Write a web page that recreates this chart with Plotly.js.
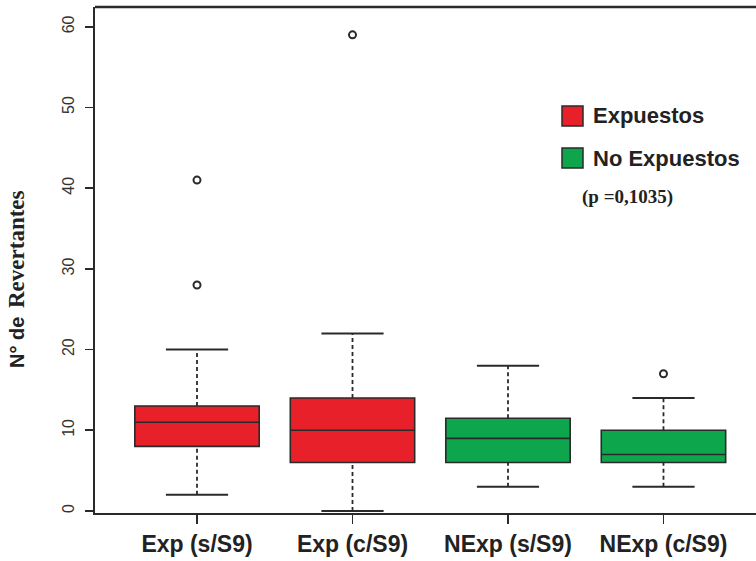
<!DOCTYPE html>
<html><head><meta charset="utf-8">
<script src="https://cdn.plot.ly/plotly-3.0.1.min.js"></script>
<style>body{margin:0;background:#fff}#chart{width:756px;height:561px}</style>
</head><body><div id="chart"></div>
<script>
const categories = ["Exp (s/S9)", "Exp (c/S9)", "NExp (s/S9)", "NExp (c/S9)"];
const lowerWhisker = [2, 0, 3, 3];
const q1Values = [8, 6, 6, 6];
const medianValues = [11, 10, 9, 7];
const q3Values = [13, 14, 11.5, 10];
const upperWhisker = [20, 22, 18, 14];
const outliers = [[28, 41], [59], [], [17]];
const groupOf = ["Expuestos", "Expuestos", "No Expuestos", "No Expuestos"];
const legendLabels = ["Expuestos", "No Expuestos"];
const pValueText = "(p =0,1035)";
const yTitleSans = "N° de";
const yTitleSerif = "Revertantes";

const SANS = "Arial, Liberation Sans";
const SERIF = "Liberation Serif";
const fillColors = {"Expuestos": "#E8202A", "No Expuestos": "#0EA64C"};
const edge = "#2a2a2a";
const positions = categories.map((c, i) => i + 1);

const traces = [];
categories.forEach((c, i) => {
  const x = positions[i];
  traces.push({type: "scatter", mode: "lines", x: [x, x], y: [lowerWhisker[i], q1Values[i]],
    line: {color: edge, width: 1.8, dash: "4px,3px"}, hoverinfo: "skip", showlegend: false});
  traces.push({type: "scatter", mode: "lines", x: [x, x], y: [q3Values[i], upperWhisker[i]],
    line: {color: edge, width: 1.8, dash: "4px,3px"}, hoverinfo: "skip", showlegend: false});
  traces.push({type: "scatter", mode: "lines", x: [x - 0.2, x + 0.2], y: [lowerWhisker[i], lowerWhisker[i]],
    line: {color: edge, width: 2}, hoverinfo: "skip", showlegend: false});
  traces.push({type: "scatter", mode: "lines", x: [x - 0.2, x + 0.2], y: [upperWhisker[i], upperWhisker[i]],
    line: {color: edge, width: 2}, hoverinfo: "skip", showlegend: false});
  traces.push({type: "box", x: [x], q1: [q1Values[i]], median: [medianValues[i]], q3: [q3Values[i]],
    lowerfence: [q1Values[i]], upperfence: [q3Values[i]], width: 0.8, whiskerwidth: 0,
    fillcolor: fillColors[groupOf[i]], line: {color: edge, width: 1.6}, showlegend: false, name: c});
  if (outliers[i].length) {
    traces.push({type: "scatter", mode: "markers", x: outliers[i].map(() => x), y: outliers[i],
      marker: {symbol: "circle-open", size: 7, color: edge, line: {width: 2, color: edge}},
      hoverinfo: "y", showlegend: false});
  }
});

const W = 661, H = 506, L = 95, T = 7;
const px = v => (v - L) / W;
const py = v => (T + H - v) / H;

const layout = {
  width: 756, height: 561,
  margin: {l: L, r: 0, t: T, b: 48},
  paper_bgcolor: "#fff", plot_bgcolor: "#fff",
  showlegend: false,
  xaxis: {range: [0.344, 4.595], tickvals: positions, ticktext: categories,
    showgrid: false, zeroline: false, showline: true, linecolor: edge, linewidth: 2,
    ticks: "outside", ticklen: 9, tickwidth: 1.6, tickcolor: edge,
    tickfont: {family: SANS, size: 23, color: "#222", weight: "bold"}},
  yaxis: {range: [-0.25, 62.45], tickvals: [0, 10, 20, 30, 40, 50, 60],
    showgrid: false, zeroline: false, showline: true, linecolor: edge, linewidth: 2,
    ticks: "outside", ticklen: 8, tickwidth: 1.6, tickcolor: edge, tickangle: -90,
    ticklabelstandoff: 5,
    tickfont: {family: SANS, size: 16, color: "#333"}},
  shapes: [
    {type: "line", xref: "paper", yref: "paper", x0: 0, x1: 1, y0: 1, y1: 1, line: {color: edge, width: 2.5}},
    {type: "rect", xref: "paper", yref: "paper", x0: px(562), x1: px(583),
      y0: py(126), y1: py(106), fillcolor: fillColors[legendLabels[0]], line: {color: edge, width: 1.5}},
    {type: "rect", xref: "paper", yref: "paper", x0: px(562), x1: px(583),
      y0: py(168), y1: py(148), fillcolor: fillColors[legendLabels[1]], line: {color: edge, width: 1.5}}
  ],
  annotations: [
    {xref: "paper", yref: "paper", x: px(591), y: py(116), xanchor: "left", yanchor: "middle",
      text: "<b>" + legendLabels[0] + "</b>", showarrow: false,
      font: {family: SANS, size: 22, color: "#222"}},
    {xref: "paper", yref: "paper", x: px(591), y: py(158), xanchor: "left", yanchor: "middle",
      text: "<b>" + legendLabels[1] + "</b>", showarrow: false,
      font: {family: SANS, size: 22, color: "#222"}},
    {xref: "paper", yref: "paper", x: px(580), y: py(197), xanchor: "left", yanchor: "middle",
      text: "<b>" + pValueText + "</b>", showarrow: false,
      font: {family: SERIF, size: 19, color: "#222"}},
    {xref: "paper", yref: "paper", x: px(17), y: py(343), xanchor: "center", yanchor: "middle",
      textangle: -90, showarrow: false, text: "<b>" + yTitleSans + "</b>",
      font: {family: SANS, size: 20, color: "#222"}},
    {xref: "paper", yref: "paper", x: px(16), y: py(249), xanchor: "center", yanchor: "middle",
      textangle: -90, showarrow: false, text: "<b>" + yTitleSerif + "</b>",
      font: {family: SERIF, size: 23, color: "#222"}}
  ]
};

Plotly.newPlot("chart", traces, layout, {staticPlot: true, displayModeBar: false});
</script></body></html>
